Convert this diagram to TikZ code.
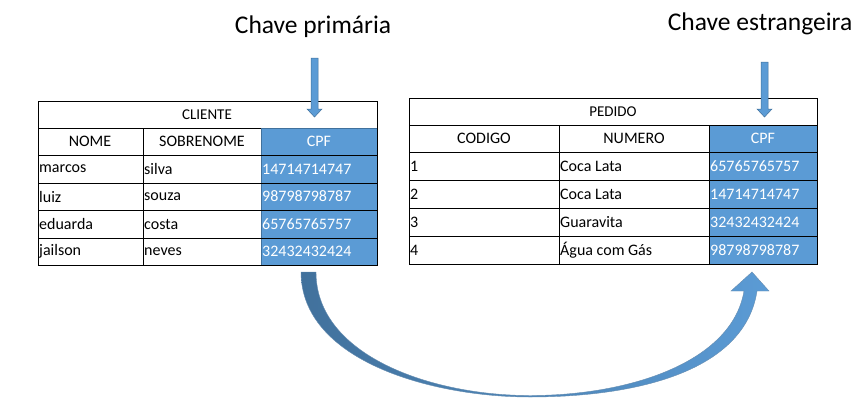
\documentclass[tikz,border=0pt]{standalone}
\usepackage{fontspec}
\setmainfont{Carlito}
\begin{document}
\begin{tikzpicture}[x=1pt,y=-1pt,
  cell/.style={draw=black,line width=0.8pt,minimum height=0pt,inner sep=0pt},
  txt/.style={font=\fontsize{16}{17}\selectfont,inner sep=1pt},
  blu/.style={fill=cpfblue,draw=cpfdark,line width=0.8pt},
  lab/.style={font=\fontsize{25.5}{27}\selectfont}]
\definecolor{cpfblue}{HTML}{5B9BD5}
\definecolor{cpfdark}{HTML}{41719C}
\useasboundingbox (0,0) rectangle (866,418);
% labels
\node[lab] (lp) at (313,27) {Chave primária};
\node[lab] (lf) at (760,24) {Chave estrangeira};
% left table
\foreach \r/\y in {1/128,2/155,3/183,4/210,5/238}{\draw[line width=0.8pt] (38,\y) -- (377,\y);}
\draw[blu] (261,128) rectangle (377,265);
\draw[line width=0.8pt] (38,101) rectangle (377,265);
\draw[line width=0.8pt] (143,128) -- (143,265);
\foreach \y in {155,183,210,238}{\draw[line width=0.8pt] (261,\y) -- (377,\y);}
\node[txt,font=\fontsize{15}{16}\selectfont] (ct) at (207,114.5) {CLIENTE};
\node[txt] (h1) at (90,141.5) {NOME};
\node[txt] (h2) at (202,141.5) {SOBRENOME};
\node[txt,white] (h3) at (319,141.5) {CPF};
\foreach \a/\b/\c/\y [count=\i] in {marcos/silva/14714714747/169,luiz/souza/98798798787/196.5,eduarda/costa/65765765757/224,jailson/neves/32432432424/251.5}{
  \node[txt,anchor=west] (la\i) at (38,\y) {\a};
  \node[txt,anchor=west] (lb\i) at (143,\y) {\b};
  \node[txt,anchor=west,white] (lc\i) at (261,\y) {\c};
}
% right table
\draw[blu] (709,125) rectangle (817,264);
\draw[line width=0.8pt] (409,98) rectangle (817,264);
\foreach \y in {125,152,180,208,236}{\draw[line width=0.8pt] (409,\y) -- (817,\y);}
\draw[line width=0.8pt] (559,125) -- (559,264);
\draw[line width=0.8pt] (709,125) -- (709,264);
\node[txt,font=\fontsize{15}{16}\selectfont] (pt) at (613,111.5) {PEDIDO};
\node[txt] (g1) at (484,138.5) {CODIGO};
\node[txt] (g2) at (634,138.5) {NUMERO};
\node[txt,white] (g3) at (763,138.5) {CPF};
\foreach \a/\b/\c/\y [count=\i] in {1/Coca Lata/65765765757/166,2/Coca Lata/14714714747/194,3/Guaravita/32432432424/222,4/Água com Gás/98798798787/250}{
  \node[txt,anchor=west] (ra\i) at (409,\y) {\a};
  \node[txt,anchor=west] (rb\i) at (559,\y) {\b};
  \node[txt,anchor=west,white] (rc\i) at (709,\y) {\c};
}
% small arrows
\draw[blu,line width=0.5pt] (311,58) -- (318,58) -- (318,109) -- (322,109) -- (314.5,117) -- (307,109) -- (311,109) -- cycle;
\draw[blu,line width=0.5pt] (761,62) -- (768,62) -- (768,109) -- (772,109) -- (764.5,117) -- (757,109) -- (761,109) -- cycle;
% big curved arrow
\shade[left color=cpfdark,right color=cpfblue,draw=cpfdark!80,line width=0.4pt]
 (301,272) .. controls (301,360) and (430,397) .. (530,397)
 .. controls (640,397) and (745,370) .. (757,291)
 -- (769,291) -- (752,272) -- (731,291) -- (744,291)
 .. controls (732,362) and (630,395.5) .. (530,395.5)
 .. controls (430,395.5) and (316,355) .. (316,272) -- cycle;
\end{tikzpicture}
\end{document}
